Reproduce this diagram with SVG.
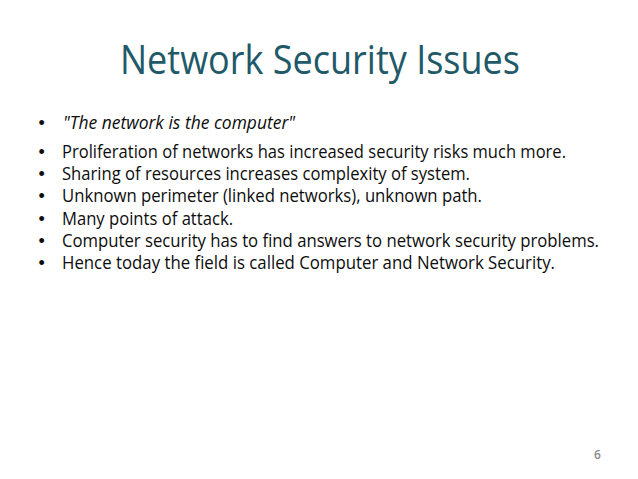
<svg xmlns="http://www.w3.org/2000/svg" width="638" height="479" viewBox="0 0 638 479">
<style>
.t{font-family:"Open Sans","Noto Sans",sans-serif;font-size:40px;fill:#215968}
.b{font-family:"Open Sans","Noto Sans",sans-serif;font-size:17.5px;fill:#0d0d0d}
.d{font-family:"Liberation Sans",Arial,sans-serif;font-size:18px;fill:#0d0d0d}
.i{font-style:italic}
.n{font-family:"Open Sans","Noto Sans",sans-serif;font-size:12px;font-weight:600;fill:#8c8c8c}
</style>
<rect width="638" height="479" fill="#ffffff"/>
<text class="t" x="120" y="74" textLength="400" lengthAdjust="spacingAndGlyphs">Network Security Issues</text>
<g id="bullets">
<text class="d" x="38.5" y="128.5">•</text>
<text class="b i" x="63" y="128.5" textLength="232" lengthAdjust="spacingAndGlyphs">"The network is the computer"</text>
<text class="d" x="38.5" y="158">•</text>
<text class="b" x="62" y="158" textLength="504" lengthAdjust="spacingAndGlyphs">Proliferation of networks has increased security risks much more.</text>
<text class="d" x="38.5" y="180.2">•</text>
<text class="b" x="62" y="180.2" textLength="408" lengthAdjust="spacingAndGlyphs">Sharing of resources increases complexity of system.</text>
<text class="d" x="38.5" y="202.4">•</text>
<text class="b" x="62" y="202.4" textLength="420" lengthAdjust="spacingAndGlyphs">Unknown perimeter (linked networks), unknown path.</text>
<text class="d" x="38.5" y="224.6">•</text>
<text class="b" x="62" y="224.6" textLength="171" lengthAdjust="spacingAndGlyphs">Many points of attack.</text>
<text class="d" x="38.5" y="246.8">•</text>
<text class="b" x="62" y="246.8" textLength="537" lengthAdjust="spacingAndGlyphs">Computer security has to find answers to network security problems.</text>
<text class="d" x="38.5" y="269">•</text>
<text class="b" x="62" y="269" textLength="493" lengthAdjust="spacingAndGlyphs">Hence today the field is called Computer and Network Security.</text>
</g>
<text class="n" x="597.5" y="459" text-anchor="middle">6</text>
</svg>
